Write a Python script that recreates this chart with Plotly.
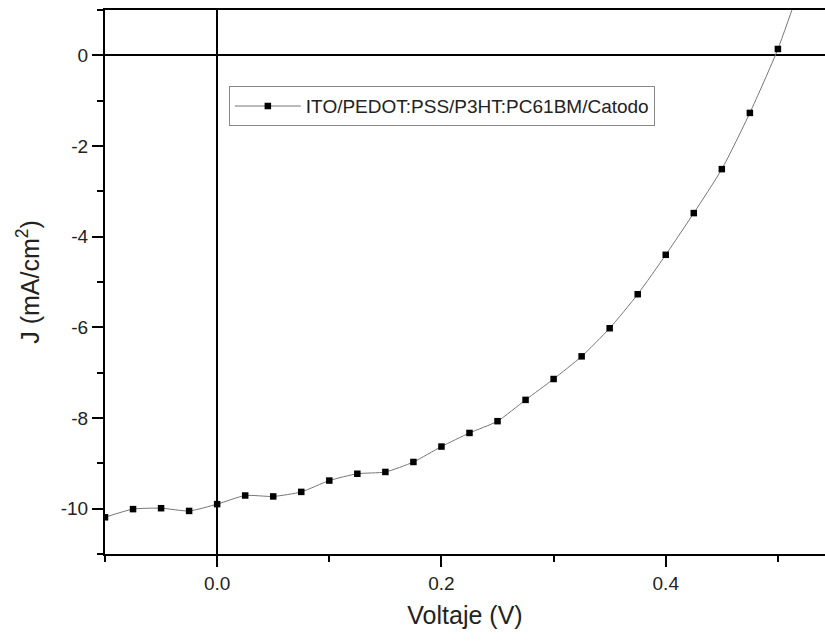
import plotly.graph_objects as go

voltage = [-0.1, -0.075, -0.05, -0.025, 0.0, 0.025, 0.05, 0.075, 0.1, 0.125, 0.15,
           0.175, 0.2, 0.225, 0.25, 0.275, 0.3, 0.325, 0.35, 0.375, 0.4, 0.425,
           0.45, 0.475, 0.5, 0.525]
current = [-10.19, -10.01, -9.99, -10.05, -9.90, -9.71, -9.73, -9.63, -9.38, -9.23, -9.19,
           -8.97, -8.63, -8.33, -8.07, -7.60, -7.14, -6.64, -6.02, -5.27, -4.40, -3.48,
           -2.51, -1.27, 0.14, 1.9]
series_name = "ITO/PEDOT:PSS/P3HT:PC61BM/Catodo"

x_tickvals = [0.0, 0.2, 0.4]
x_ticktext = ["0.0", "0.2", "0.4"]
y_tickvals = [-10, -8, -6, -4, -2, 0]
y_ticktext = ["-10", "-8", "-6", "-4", "-2", "0"]

FONT = "Arial, Liberation Sans, sans-serif"

fig = go.Figure()
fig.add_trace(go.Scatter(
    x=voltage, y=current, mode="lines+markers", name=series_name,
    line=dict(color="#777777", width=1, shape="spline", smoothing=0.6),
    marker=dict(symbol="square", size=6.5, color="black"),
))

fig.update_layout(
    width=825, height=642,
    margin=dict(l=105, r=0, t=10, b=88),
    plot_bgcolor="white", paper_bgcolor="white",
    font=dict(family=FONT, color="#222222", size=19),
    showlegend=True,
    legend=dict(
        x=0.172, y=0.86, xanchor="left", yanchor="top",
        bordercolor="#888888", borderwidth=1, bgcolor="white",
        font=dict(family=FONT, size=19, color="#222222"),
        itemwidth=66,
    ),
)

fig.update_xaxes(
    range=[-0.1, 0.542],
    tickmode="array", tickvals=x_tickvals, ticktext=x_ticktext,
    ticks="outside", ticklen=11, tickwidth=2, tickcolor="black",
    minor=dict(dtick=0.1, tick0=0, ticks="outside", ticklen=6, tickwidth=2, tickcolor="black"),
    showline=True, linecolor="black", linewidth=2, mirror=True,
    showgrid=False,
    zeroline=True, zerolinecolor="black", zerolinewidth=2,
    title=dict(text="Voltaje (V)", font=dict(size=25, family=FONT), standoff=14),
    tickfont=dict(size=19, family=FONT),
)
fig.update_yaxes(
    range=[-11, 1],
    tickmode="array", tickvals=y_tickvals, ticktext=y_ticktext,
    ticks="outside", ticklen=11, tickwidth=2, tickcolor="black",
    minor=dict(dtick=1, tick0=0, ticks="outside", ticklen=6, tickwidth=2, tickcolor="black"),
    showline=True, linecolor="black", linewidth=2, mirror=False,
    showgrid=False,
    zeroline=True, zerolinecolor="black", zerolinewidth=2,
    title=dict(text="J (mA/cm<sup>2</sup>)", font=dict(size=25, family=FONT), standoff=14),
    tickfont=dict(size=19, family=FONT),
)

fig.write_html("out.html")
